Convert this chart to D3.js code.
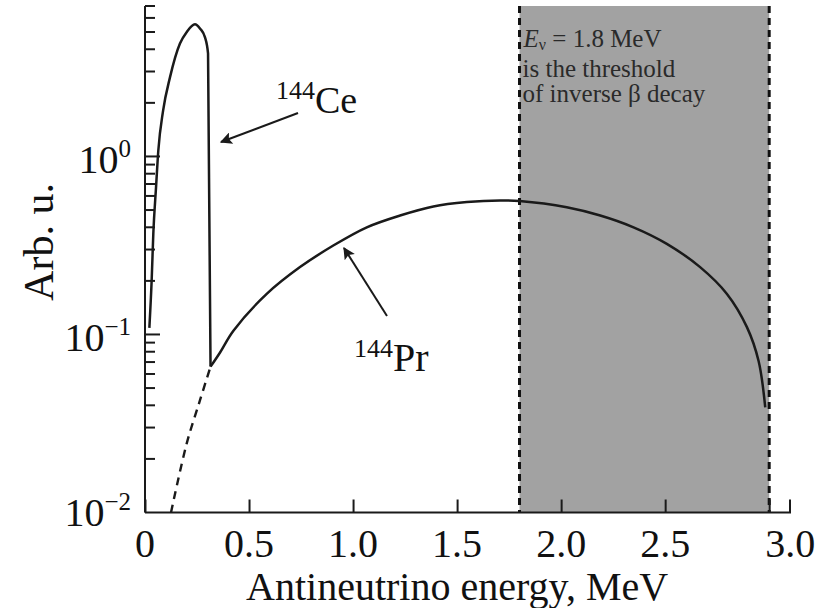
<!DOCTYPE html>
<html>
<head>
<meta charset="utf-8">
<script src="https://cdn.jsdelivr.net/npm/d3@7"></script>
<style>
  html, body { margin: 0; padding: 0; background: #fff; }
  svg { display: block; }
  text { font-family: "Liberation Serif", "Times New Roman", serif; fill: #111; }
</style>
</head>
<body>
<svg id="chart" width="817" height="608"></svg>
<script>
// ---- data ----
const ceEnergy = [0.021, 0.032, 0.040, 0.053, 0.064, 0.087, 0.120, 0.168, 0.200, 0.240, 0.265, 0.288, 0.303, 0.315];
const ceValue  = [0.109, 0.201, 0.369, 0.67, 1.08, 1.81, 2.78, 4.31, 4.99, 5.52, 5.22, 4.68, 3.79, 0.066];

const prEnergy = [0.315, 0.36, 0.425, 0.585, 0.745, 0.905, 1.066, 1.226, 1.386, 1.547, 1.707, 1.80, 2.027, 2.188, 2.348, 2.508, 2.668, 2.797, 2.893, 2.949, 2.981];
const prValue  = [0.066, 0.079, 0.105, 0.169, 0.239, 0.316, 0.40, 0.466, 0.524, 0.554, 0.566, 0.562, 0.519, 0.466, 0.40, 0.323, 0.239, 0.169, 0.11, 0.071, 0.039];

const prLowEnergy = [0.125, 0.200, 0.264, 0.315];
const prLowValue  = [0.0100, 0.0243, 0.0426, 0.066];

const thresholdBand = [1.8, 3.0];
const xTicks = [0, 0.5, 1.0, 1.5, 2.0, 2.5, 3.0];
const xTickLabels = ["0", "0.5", "1.0", "1.5", "2.0", "2.5", "3.0"];
const yMajorTicks = [0.01, 0.1, 1];
const yTickExponents = ["\u22122", "\u22121", "0"];
const bandText = ["is the threshold", "of inverse \u03B2 decay"];

// ---- layout ----
const svg = d3.select("#chart");
const x = d3.scaleLinear().domain([0, 3.1]).range([145, 790]);
const y = d3.scaleLog().domain([0.01, 7]).range([512.5, 6]);

const ink = "#1a1a1a";

// shaded band
svg.append("rect")
  .attr("x", x(thresholdBand[0])).attr("y", y(7))
  .attr("width", x(thresholdBand[1]) - x(thresholdBand[0]))
  .attr("height", y(0.01) - y(7))
  .attr("fill", "#a2a2a2");

svg.selectAll("line.band")
  .data(thresholdBand).enter().append("line")
  .attr("x1", d => x(d)).attr("x2", d => x(d))
  .attr("y1", y(7)).attr("y2", y(0.01))
  .attr("stroke", "#111").attr("stroke-width", 3)
  .attr("stroke-dasharray", "7,5");

// band annotation
const ann = svg.append("g");
const t1 = ann.append("text").attr("x", x(thresholdBand[0]) + 4).attr("y", 47)
  .attr("font-size", 25).style("fill", "#2a2a2a");
t1.append("tspan").attr("font-style", "italic").text("E");
t1.append("tspan").attr("font-size", 16).attr("dy", 3).text("\u03BD");
t1.append("tspan").attr("dy", -3).text(" = 1.8 MeV");
bandText.forEach((s, i) => {
  ann.append("text").attr("x", x(thresholdBand[0]) + 3).attr("y", 77 + i * 25)
    .attr("font-size", 25).style("fill", "#2a2a2a").text(s);
});

// axes
const xAxis = d3.axisBottom(x).tickValues(xTicks).tickSize(-13).tickFormat("");
const gx = svg.append("g").attr("transform", `translate(0,${y(0.01)})`).call(xAxis);
gx.select(".domain").attr("d", `M${x(0)},0H${x(3.1)}V-13`).attr("stroke", ink).attr("stroke-width", 2);
gx.selectAll(".tick line").attr("stroke", ink).attr("stroke-width", 2);

svg.selectAll("text.xt").data(xTicks).enter().append("text")
  .attr("x", (d, i) => x(d) + (i === xTicks.length - 1 ? 21 : 0))
  .attr("y", 557).attr("text-anchor", "middle").attr("font-size", 40)
  .text((d, i) => xTickLabels[i]);

// y axis with log minor ticks
const minor = [];
[0.01, 0.1, 1].forEach(dec => { for (let k = 2; k <= 9; k++) { const v = k * dec; if (v <= 7) minor.push(v); } });
const gy = svg.append("g").attr("transform", `translate(${x(0)},0)`);
gy.append("line").attr("x1", 0).attr("x2", 0).attr("y1", y(7)).attr("y2", y(0.01))
  .attr("stroke", ink).attr("stroke-width", 2);
gy.selectAll("line.minor").data(minor).enter().append("line")
  .attr("x1", 0).attr("x2", 10).attr("y1", d => y(d)).attr("y2", d => y(d))
  .attr("stroke", ink).attr("stroke-width", 2);
gy.selectAll("line.major").data(yMajorTicks.slice(1)).enter().append("line")
  .attr("x1", 0).attr("x2", 15).attr("y1", d => y(d)).attr("y2", d => y(d))
  .attr("stroke", ink).attr("stroke-width", 2);

yMajorTicks.forEach((v, i) => {
  const t = svg.append("text").attr("x", 131).attr("y", y(v) + (i === 0 ? 13 : 17))
    .attr("text-anchor", "end").attr("font-size", 40);
  t.append("tspan").text("10");
  t.append("tspan").attr("font-size", 25).attr("dy", -16).text(yTickExponents[i]);
});

// axis titles
svg.append("text").attr("x", x(1.5)).attr("y", 600).attr("text-anchor", "middle")
  .attr("font-size", 40).text("Antineutrino energy, MeV");
svg.append("text").attr("transform", "translate(53,242) rotate(-90)")
  .attr("text-anchor", "middle").attr("font-size", 42).text("Arb. u.");

// curves
const ceLine = d3.line().x(d => x(d[0])).y(d => y(d[1])).curve(d3.curveMonotoneX);
const prLine = d3.line().x(d => x(d[0])).y(d => y(d[1])).curve(d3.curveCatmullRom.alpha(0.5));
const ce = ceEnergy.map((e, i) => [e, ceValue[i]]);
const pr = prEnergy.map((e, i) => [e, prValue[i]]);
const prLow = prLowEnergy.map((e, i) => [e, prLowValue[i]]);

svg.append("path").attr("d", prLine(prLow)).attr("fill", "none")
  .attr("stroke", ink).attr("stroke-width", 2.4).attr("stroke-dasharray", "8,6");
svg.append("path").attr("d", ceLine(ce)).attr("fill", "none")
  .attr("stroke", ink).attr("stroke-width", 2.5);
svg.append("path").attr("d", prLine(pr)).attr("fill", "none")
  .attr("stroke", ink).attr("stroke-width", 2.5);

// arrows
const defs = svg.append("defs");
defs.append("marker").attr("id", "ah").attr("viewBox", "0 0 10 10")
  .attr("refX", 9).attr("refY", 5).attr("markerWidth", 8).attr("markerHeight", 6)
  .attr("markerUnits", "strokeWidth").attr("orient", "auto")
  .append("path").attr("d", "M0,0L10,5L0,10L2,5Z").attr("fill", ink);

svg.append("line").attr("x1", 298).attr("y1", 113).attr("x2", 221).attr("y2", 142)
  .attr("stroke", ink).attr("stroke-width", 2).attr("marker-end", "url(#ah)");
svg.append("line").attr("x1", 387).attr("y1", 316).attr("x2", 344).attr("y2", 248)
  .attr("stroke", ink).attr("stroke-width", 2).attr("marker-end", "url(#ah)");

// isotope labels
function iso(xp, yp, mass, sym, size) {
  const t = svg.append("text").attr("x", xp).attr("y", yp).attr("font-size", size);
  t.append("tspan").attr("font-size", 26).attr("dy", -14).text(mass);
  t.append("tspan").attr("dy", 14).text(sym);
}
iso(276, 113, "144", "Ce", 38);
iso(354, 371, "144", "Pr", 40);
</script>
</body>
</html>
